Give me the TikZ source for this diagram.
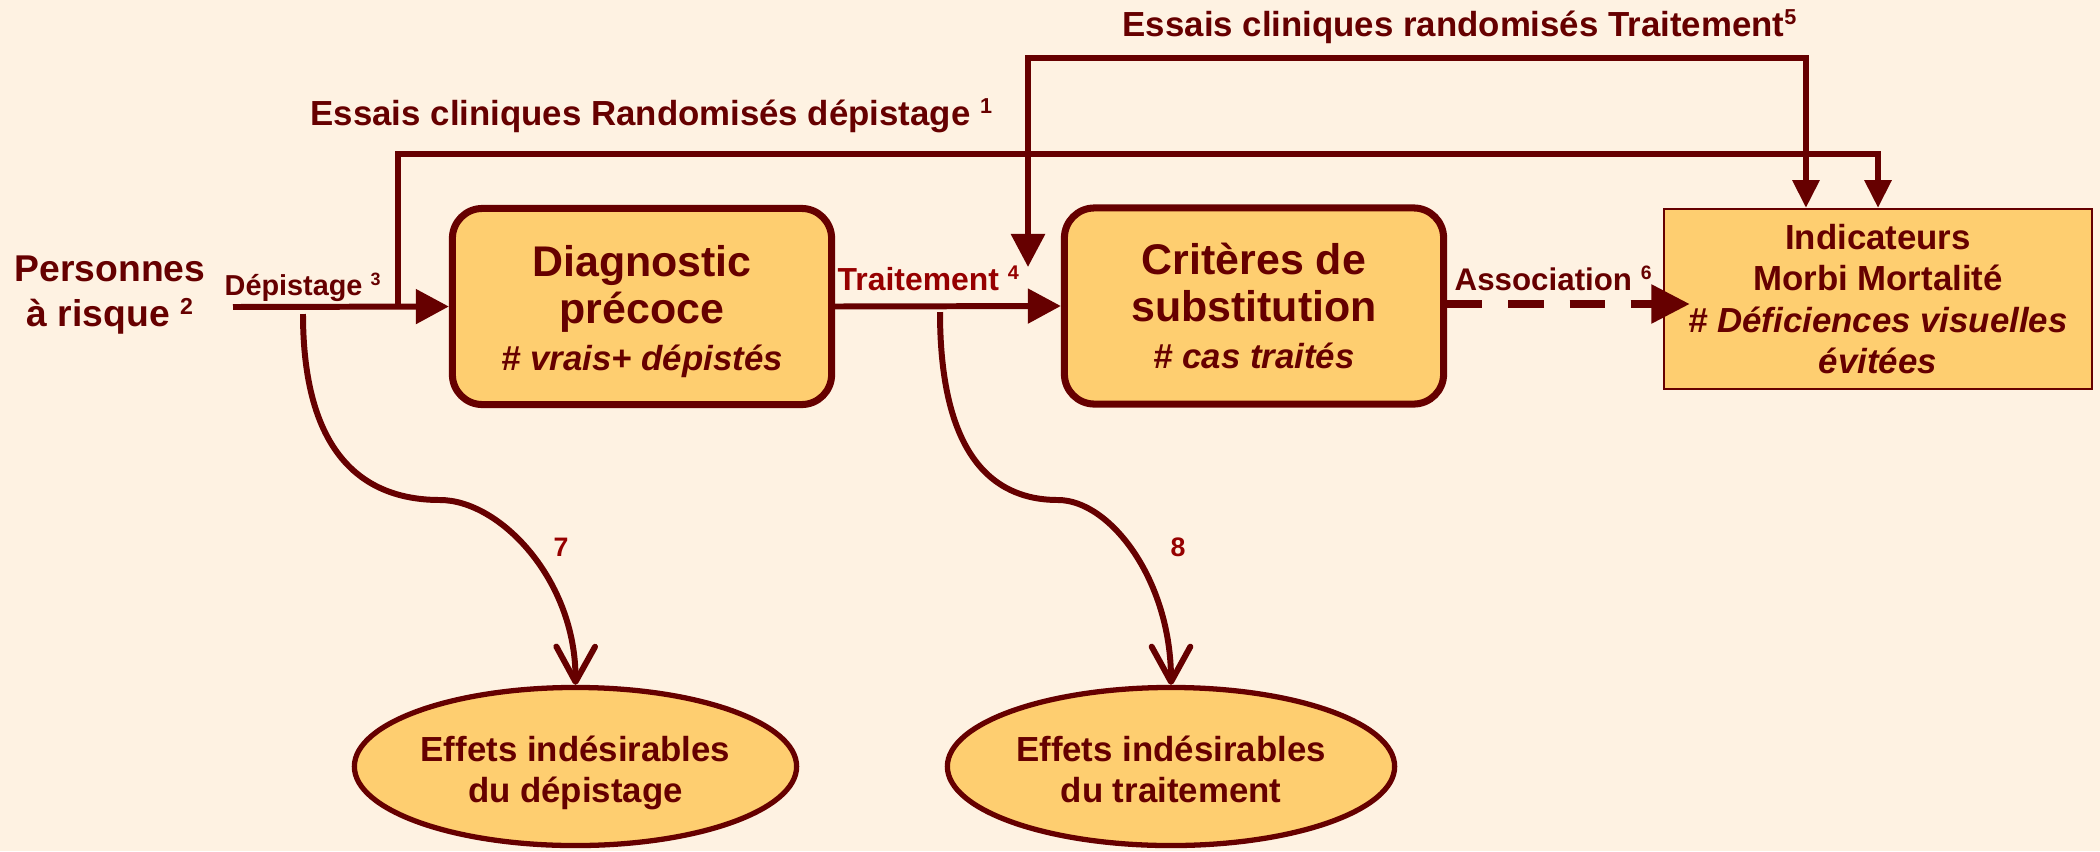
\documentclass[tikz,border=0pt]{standalone}
\usepackage{fontspec}
\setmainfont{Liberation Sans}
\usepackage{graphicx}
\usetikzlibrary{arrows.meta,shapes.geometric}
\definecolor{maroon}{RGB}{102,0,0}
\definecolor{lblred}{RGB}{150,0,0}
\definecolor{boxfill}{RGB}{254,206,112}
\definecolor{bgcol}{RGB}{254,242,226}
\newcommand{\up}[1]{\raisebox{0.33em}{\scalebox{0.62}{#1}}}
\begin{document}
\begin{tikzpicture}[x=0.01cm,y=-0.01cm,
  rbox/.style={draw=maroon,line width=2pt,fill=boxfill,rounded corners=0.3cm,
    minimum width=3.79cm,minimum height=1.96cm,inner sep=0pt,align=center,
    text=maroon,font=\bfseries\fontsize{12.2}{13.4}\selectfont},
  sqbox/.style={draw=maroon,line width=0.6pt,fill=boxfill,
    minimum width=4.28cm,minimum height=1.8cm,inner sep=0pt,align=center,
    text=maroon,font=\bfseries\fontsize{9.9}{11.8}\selectfont},
  ell/.style={ellipse,draw=maroon,line width=1.5pt,fill=boxfill,
    minimum height=1.58cm,inner sep=0pt,align=center,
    text=maroon,font=\bfseries\fontsize{9.9}{11.6}\selectfont},
  lab/.style={anchor=base west,inner sep=0pt,text=maroon},
  conn/.style={draw=maroon,line width=1.7pt},
  curvy/.style={draw=maroon,line width=1.7pt,-{Straight Barb[length=10pt,width=11pt,round]}},
  tipA/.style={-{Triangle[length=9.4pt,width=9.6pt]}},
  num/.style={inner sep=0pt,text=lblred,font=\bfseries\fontsize{7.6}{9}\selectfont}
]
\useasboundingbox (0,0) rectangle (2100,851);
\fill[bgcol] (0,0) rectangle (2100,851);

% nodes
\node[inner sep=0pt,align=center,text=maroon,font=\bfseries\fontsize{10.6}{12.8}\selectfont] (pers) at (110,295) {Personnes\\à risque \up{2}};
\node[rbox] (b1) at (642,306.5) {\rule{0pt}{0.95em}Diagnostic\\précoce\\{\fontsize{9.9}{13.4}\selectfont\itshape\# vrais+ dépistés}};
\node[rbox] (b2) at (1254,306) {Critères de\\substitution\\{\fontsize{9.9}{13.4}\selectfont\itshape\# cas traités}};
\node[sqbox] (b3) at (1878,299) {Indicateurs\\Morbi Mortalité\\{\itshape\# Déficiences visuelles}\\{\itshape évitées}};
\node[ell,minimum width=4.42cm] (e1) at (575.5,766.5) {\rule{0pt}{1.157em}Effets indésirables\\du dépistage\rule[-0.25em]{0pt}{0.25em}};
\node[ell,minimum width=4.47cm] (e2) at (1171,766.5) {\rule{0pt}{1.157em}Effets indésirables\\du traitement\rule[-0.25em]{0pt}{0.25em}};

% labels
\node[lab,font=\bfseries\fontsize{9.9}{12}\selectfont] (t1) at (310,125) {Essais cliniques Randomisés dépistage \up{1}};
\node[lab,font=\bfseries\fontsize{9.9}{12}\selectfont] (t2) at (1122,36) {Essais cliniques randomisés Traitement\up{5}};
\node[lab,font=\bfseries\fontsize{8.2}{10}\selectfont] (ldep) at (224,295) {Dépistage \up{3}};
\node[lab,text=lblred,font=\bfseries\fontsize{9.07}{11}\selectfont] (ltr) at (837,290) {Traitement \up{4}};
\node[lab,font=\bfseries\fontsize{8.9}{11}\selectfont] (lass) at (1454,290) {Association \up{6}};
\node[num] (n7) at (561,547) {7};
\node[num] (n8) at (1178,547) {8};

% coordinates
\coordinate (s0) at (233,307);
\coordinate (j1) at (398,307);
\coordinate (c2) at (1028,267);
\coordinate (a6) at (1690,304);
\coordinate (c7) at (303,314);
\coordinate (c8) at (940,312);

% connectors
\draw[conn,tipA] (s0) -- (b1.west);
\draw[conn,tipA] (b1.east) -- (b2.west);
\draw[conn,-{Triangle[length=7.9pt,width=7.4pt]}] (j1) -- (j1 |- 0,154) -| (b3.north);
\draw[conn,{Triangle[length=9.4pt,width=9.4pt]}-{Triangle[length=7.9pt,width=7.4pt]}] (c2) -- (c2 |- 0,58) -| ([xshift=-0.72cm]b3.north);
\draw[draw=maroon,line width=2.5pt,dash pattern=on 10pt off 7.4pt,-{Triangle[length=11pt,width=10.5pt]}] (b2.east |- a6) -- (a6);
\draw[curvy] (c7) .. controls (303,450) and (360,500) .. (440,500) .. controls (500,500) and (576,580) .. (e1.north);
\draw[curvy] (c8) .. controls (940,450) and (989,500) .. (1058,500) .. controls (1110,500) and (1171,580) .. (e2.north);
\end{tikzpicture}
\end{document}
